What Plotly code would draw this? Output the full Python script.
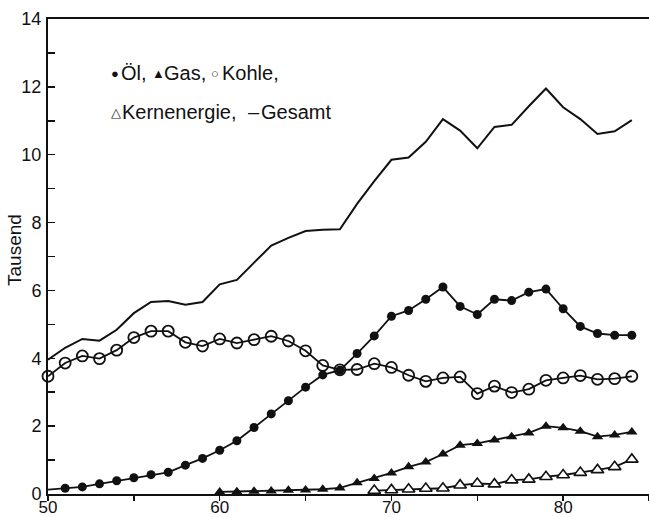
import plotly.graph_objects as go

years = list(range(1950, 1985))

oel = [0.13, 0.17, 0.21, 0.30, 0.39, 0.48, 0.57, 0.64, 0.85, 1.05,
       1.29, 1.57, 1.96, 2.36, 2.75, 3.15, 3.51, 3.65, 4.14, 4.66,
       5.24, 5.41, 5.74, 6.10, 5.53, 5.29, 5.74, 5.70, 5.95, 6.04,
       5.46, 4.94, 4.73, 4.68, 4.68]

kohle = [3.47, 3.86, 4.07, 3.99, 4.24, 4.61, 4.80, 4.80, 4.47, 4.36,
         4.57, 4.45, 4.55, 4.65, 4.51, 4.22, 3.79, 3.66, 3.67, 3.84,
         3.73, 3.50, 3.32, 3.42, 3.45, 2.96, 3.18, 2.99, 3.09, 3.35,
         3.42, 3.49, 3.38, 3.40, 3.47]

gas_years = list(range(1960, 1985))
gas = [0.06, 0.07, 0.08, 0.09, 0.11, 0.12, 0.14, 0.18, 0.33, 0.46,
       0.62, 0.80, 0.94, 1.18, 1.44, 1.49, 1.59, 1.69, 1.80, 2.00,
       1.95, 1.85, 1.69, 1.74, 1.83]

kern_years = list(range(1969, 1985))
kern = [0.10, 0.12, 0.14, 0.16, 0.17, 0.26, 0.31, 0.29, 0.41, 0.43,
        0.51, 0.56, 0.63, 0.71, 0.80, 1.02]

gesamt = [3.96, 4.31, 4.57, 4.52, 4.84, 5.33, 5.66, 5.69, 5.58, 5.66,
          6.18, 6.31, 6.82, 7.32, 7.55, 7.75, 7.79, 7.80, 8.55, 9.22,
          9.85, 9.92, 10.38, 11.05, 10.71, 10.19, 10.82, 10.88, 11.43, 11.95,
          11.40, 11.05, 10.61, 10.69, 11.02]

x_tick_vals = [50, 60, 70, 80]
y_tick_vals = [0, 2, 4, 6, 8, 10, 12, 14]

y_title = "Tausend"
legend_row1 = [("●", 13), ("Öl,", None), ("▲", 13), ("Gas,", None), ("○", 13), ("Kohle,", None)]
legend_row2 = [("△", 13), ("Kernenergie,", None), ("–", None), ("Gesamt", None)]


def yy(lst):
    return [y - 1900 for y in lst]


BLACK = "#111111"
FONT = "Liberation Sans, Arial, sans-serif"
W, H = 649, 517
ML, MR, MT, MB = 48, 0, 19, 23


def px_to_paper(px, py):
    return (px - ML) / (W - ML - MR), (H - MB - py) / (H - MT - MB)


fig = go.Figure()

fig.add_trace(go.Scatter(x=yy(years), y=gesamt, mode="lines",
                         line=dict(color=BLACK, width=2), cliponaxis=False))
fig.add_trace(go.Scatter(x=yy(years), y=kohle, mode="lines+markers",
                         line=dict(color=BLACK, width=1.8),
                         marker=dict(symbol="circle-open", size=11, color=BLACK,
                                     line=dict(width=1.8, color=BLACK)),
                         cliponaxis=False))
oel_sizes = [0 if y == years[0] else 9 for y in years]
fig.add_trace(go.Scatter(x=yy(years), y=oel, mode="lines+markers",
                         line=dict(color=BLACK, width=1.8),
                         marker=dict(symbol="circle", size=oel_sizes, color=BLACK,
                                     opacity=1, line=dict(width=0, color=BLACK)),
                         cliponaxis=False))
fig.add_trace(go.Scatter(x=yy(gas_years), y=gas, mode="lines+markers",
                         line=dict(color=BLACK, width=1.8),
                         marker=dict(symbol="triangle-up", size=10, color=BLACK),
                         cliponaxis=False))
fig.add_trace(go.Scatter(x=yy(kern_years), y=kern, mode="lines+markers",
                         line=dict(color=BLACK, width=1.8),
                         marker=dict(symbol="triangle-up", size=11, color="white",
                                     line=dict(width=1.6, color=BLACK)),
                         cliponaxis=False))

fig.update_layout(
    width=W, height=H,
    margin=dict(l=ML, r=MR, t=MT, b=MB, autoexpand=False),
    paper_bgcolor="white", plot_bgcolor="white",
    showlegend=False,
    hovermode=False,
    font=dict(family=FONT, color=BLACK, size=17),
    xaxis=dict(range=[50, 85], tickvals=x_tick_vals, ticktext=[str(v) for v in x_tick_vals],
               automargin=False,
               showgrid=False, zeroline=False, showline=True, linecolor=BLACK, linewidth=2,
               mirror=True, ticks="outside", ticklen=5, tickwidth=1.5, tickcolor=BLACK,
               minor=dict(dtick=5, ticks="outside", ticklen=5, tickwidth=1.5, tickcolor=BLACK),
               tickfont=dict(size=17), ticklabelstandoff=-8),
    yaxis=dict(range=[0, 14], tickvals=y_tick_vals, ticktext=[str(v) for v in y_tick_vals],
               automargin=False,
               showgrid=False, zeroline=False, showline=True, linecolor=BLACK, linewidth=2,
               ticks="inside", ticklen=7, tickwidth=1.5, tickcolor=BLACK,
               minor=dict(dtick=1, ticks="inside", ticklen=7, tickwidth=1.5, tickcolor=BLACK),
               tickfont=dict(size=18), ticklabelstandoff=1),
)

tx, ty = px_to_paper(14, 250)
fig.add_annotation(xref="paper", yref="paper", x=tx, y=ty, xanchor="center", yanchor="middle",
                   showarrow=False, textangle=-90, text=y_title,
                   font=dict(size=19, family=FONT, color=BLACK))

row1_x = [110, 120, 151, 163, 210, 221]
row2_x = [110, 121, 247, 260]
for items, xs, py in ((legend_row1, row1_x, 73), (legend_row2, row2_x, 112)):
    for (txt, fs), px in zip(items, xs):
        ax, ay = px_to_paper(px, py)
        fig.add_annotation(xref="paper", yref="paper", x=ax, y=ay, xanchor="left", yanchor="middle",
                           showarrow=False, text=txt, borderpad=0,
                           font=dict(size=fs if fs else 20, family=FONT, color=BLACK))

fig.write_html("out.html", config={"displayModeBar": False, "staticPlot": True},
               post_script="document.body.style.margin='0';document.body.style.overflow='hidden';")
